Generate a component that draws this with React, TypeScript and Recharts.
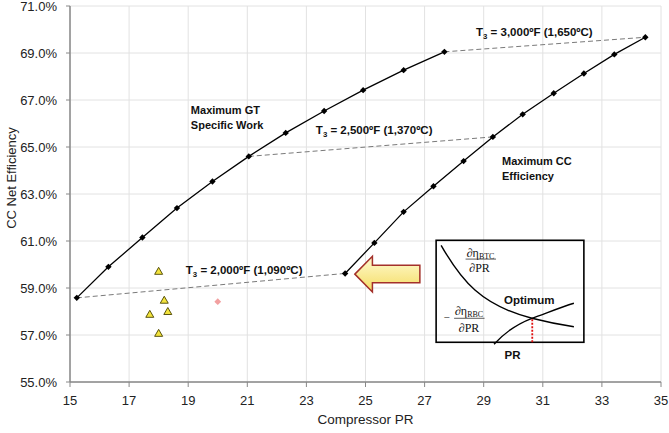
import React from 'react';
import {
  ComposedChart,
  Scatter,
  XAxis,
  YAxis,
  CartesianGrid,
  ReferenceDot,
  ReferenceArea,
} from 'recharts';

// ---- data (compressor PR, CC net efficiency %) ----
const gtPR = [15.23, 16.3, 17.45, 18.62, 19.82, 21.05, 22.3, 23.6, 24.92, 26.29, 27.67];
const gtEff = [58.58, 59.9, 61.15, 62.4, 63.53, 64.6, 65.6, 66.53, 67.42, 68.27, 69.05];
const ccPR = [24.31, 25.3, 26.29, 27.3, 28.32, 29.31, 30.32, 31.37, 32.39, 33.42, 34.47];
const ccEff = [59.62, 60.92, 62.24, 63.33, 64.4, 65.43, 66.39, 67.29, 68.13, 68.94, 69.67];
const iso2000PR = [15.23, 24.31];
const iso2000Eff = [58.58, 59.62];
const iso2500PR = [21.05, 29.31];
const iso2500Eff = [64.6, 65.43];
const iso3000PR = [27.67, 34.47];
const iso3000Eff = [69.05, 69.67];
const plantPR = [18.0, 18.19, 17.7, 18.31, 18.0];
const plantEff = [59.71, 58.48, 57.88, 58.0, 57.07];
const refPR = [20.0];
const refEff = [58.42];
const xTicks = [15, 17, 19, 21, 23, 25, 27, 29, 31, 33, 35];
const yTicks = [55, 57, 59, 61, 63, 65, 67, 69, 71];

const zip = (xs: number[], ys: number[]) => xs.map((x, i) => ({ x, y: ys[i] }));
const gtData = zip(gtPR, gtEff);
const ccData = zip(ccPR, ccEff);
const iso2000 = zip(iso2000PR, iso2000Eff);
const iso2500 = zip(iso2500PR, iso2500Eff);
const iso3000 = zip(iso3000PR, iso3000Eff);
const plantData = zip(plantPR, plantEff);
const refData = zip(refPR, refEff);

const SANS = "Arial, 'Liberation Sans', sans-serif";
const SERIF = "'Times New Roman', 'Liberation Serif', serif";

const Diamond = (p: any) => {
  const { cx, cy } = p;
  const r = 3.2;
  return (
    <path d={`M${cx},${cy - r} L${cx + r},${cy} L${cx},${cy + r} L${cx - r},${cy} Z`} fill="#000" />
  );
};
const PinkDiamond = (p: any) => {
  const { cx, cy } = p;
  const r = 3.4;
  return (
    <path d={`M${cx},${cy - r} L${cx + r},${cy} L${cx},${cy + r} L${cx - r},${cy} Z`} fill="#f2a0a0" />
  );
};
const Triangle = (p: any) => {
  const { cx, cy } = p;
  return (
    <path
      d={`M${cx},${cy - 4} L${cx + 4},${cy + 3} L${cx - 4},${cy + 3} Z`}
      fill="#f3e33c"
      stroke="#4a4400"
      strokeWidth={0.9}
    />
  );
};
const NoMark = () => <g />;

const noteText = (lines: string[][], size: number) => (p: any) => {
  const { cx, cy } = p;
  return (
    <text x={cx} y={cy} fontFamily={SANS} fontWeight="bold" fontSize={size} fill="#111">
      {lines.map((parts, i) => (
        <tspan key={i} x={cx} dy={i === 0 ? '0.35em' : 15.5}>
          {parts.length === 1 ? (
            parts[0]
          ) : (
            <>
              {parts[0]}
              <tspan fontSize={size * 0.68} dy={3}>{parts[1]}</tspan>
              <tspan dy={-3}>{parts[2]}</tspan>
            </>
          )}
        </tspan>
      ))}
    </text>
  );
};

const ArrowShape = (p: any) => {
  const { x, y, width: w, height: h } = p;
  const hx = x + 0.27 * w;
  const pts = [
    [x, y + 0.5 * h],
    [hx, y],
    [hx, y + 0.25 * h],
    [x + w, y + 0.25 * h],
    [x + w, y + 0.74 * h],
    [hx, y + 0.74 * h],
    [hx, y + h],
  ]
    .map((q) => q.join(','))
    .join(' ');
  return (
    <g>
      <defs>
        <linearGradient id="arrowFill" x1="0" y1="0" x2="0" y2="1">
          <stop offset="0" stopColor="#fffbd2" />
          <stop offset="1" stopColor="#f4dc62" />
        </linearGradient>
      </defs>
      <polygon points={pts} fill="url(#arrowFill)" stroke="#a3302a" strokeWidth={1.5} strokeLinejoin="miter" />
    </g>
  );
};

const InsetShape = (p: any) => {
  const { x, y, width: w, height: h } = p;
  const sx = w / 148;
  const sy = h / 102;
  const P = (a: number, b: number) => `${x + a * sx},${y + b * sy}`;
  const X = (a: number) => x + a * sx;
  const Y = (b: number) => y + b * sy;
  return (
    <g>
      <rect x={x} y={y} width={w} height={h} fill="none" stroke="#000" strokeWidth={1.6} />
      <path
        d={`M${P(5, 5)} C${P(25, 40)} ${P(45, 65)} ${P(96, 78)} C${P(110, 81.6)} ${P(125, 84.5)} ${P(138, 86.5)}`}
        fill="none"
        stroke="#000"
        strokeWidth={1.4}
      />
      <path
        d={`M${P(58, 104)} C${P(68, 93)} ${P(80, 84)} ${P(96, 78)} C${P(110, 73)} ${P(125, 67)} ${P(138, 63)}`}
        fill="none"
        stroke="#000"
        strokeWidth={1.4}
      />
      <line x1={X(96.3)} y1={Y(79)} x2={X(96.3)} y2={Y(102)} stroke="#e01010" strokeWidth={1.8} strokeDasharray="2 1.5" />
      {/* dEta_BTC / dPR */}
      <text x={X(44.5)} y={Y(17)} fontFamily={SERIF} fontSize={12} textAnchor="middle" fill="#111">
        ∂η<tspan fontSize={8} dy={2}>BTC</tspan>
      </text>
      <line x1={X(29.5)} y1={Y(18.8)} x2={X(60)} y2={Y(18.8)} stroke="#333" strokeWidth={0.8} />
      <text x={X(43.5)} y={Y(31.5)} fontFamily={SERIF} fontSize={12} textAnchor="middle" fill="#111">
        ∂PR
      </text>
      {/* - dEta_RBC / dPR */}
      <text x={X(10.5)} y={Y(81)} fontFamily={SERIF} fontSize={11} textAnchor="middle" fill="#111">
        −
      </text>
      <text x={X(33)} y={Y(74.5)} fontFamily={SERIF} fontSize={12} textAnchor="middle" fill="#111">
        ∂η<tspan fontSize={8} dy={2}>RBC</tspan>
      </text>
      <line x1={X(18)} y1={Y(78)} x2={X(48.5)} y2={Y(78)} stroke="#333" strokeWidth={0.8} />
      <text x={X(33)} y={Y(91.5)} fontFamily={SERIF} fontSize={12} textAnchor="middle" fill="#111">
        ∂PR
      </text>
      <text x={X(68)} y={Y(63.8)} fontFamily={SANS} fontWeight="bold" fontSize={11.5} fill="#111">
        Optimum
      </text>
      <text x={X(68.5)} y={Y(118.8)} fontFamily={SANS} fontWeight="bold" fontSize={11.5} fill="#111">
        PR
      </text>
    </g>
  );
};

export default function App() {
  return (
    <div style={{ position: 'absolute', left: 0, top: 0, width: 669, height: 433, background: '#fff' }}>
      <ComposedChart
        width={669}
        height={433}
        margin={{ top: 6, right: 8, bottom: 0, left: 8 }}
      >
        <CartesianGrid stroke="#e2e2e2" strokeWidth={1} />
        <XAxis
          dataKey="x"
          type="number"
          domain={[15, 35]}
          ticks={xTicks}
          interval={0}
          height={51}
          tickSize={5}
          tickMargin={9}
          axisLine={{ stroke: '#888', strokeWidth: 1.5 }}
          tickLine={{ stroke: '#888' }}
          tick={{ fill: '#222', fontSize: 13, fontFamily: SANS }}
          label={{
            content: (props: any) => {
              const vb = props.viewBox || {};
              return (
                <text
                  x={vb.x + vb.width / 2}
                  y={423.5}
                  textAnchor="middle"
                  fontFamily={SANS}
                  fontSize={13.5}
                  fill="#222"
                >
                  Compressor PR
                </text>
              );
            },
          }}
        />
        <YAxis
          dataKey="y"
          type="number"
          domain={[55, 71]}
          ticks={yTicks}
          interval={0}
          width={62}
          tickSize={4}
          tickMargin={9}
          tickFormatter={(v: number) => `${v.toFixed(1)}%`}
          axisLine={{ stroke: '#888', strokeWidth: 1.5 }}
          tickLine={{ stroke: '#888' }}
          tick={{ fill: '#222', fontSize: 13, fontFamily: SANS }}
          label={{
            content: (props: any) => {
              const vb = props.viewBox || {};
              const cx = 11;
              const cy = vb.y + vb.height / 2 - 16;
              return (
                <text
                  x={cx}
                  y={cy}
                  transform={`rotate(-90, ${cx}, ${cy})`}
                  textAnchor="middle"
                  dominantBaseline="central"
                  fontFamily={SANS}
                  fontSize={13}
                  fill="#222"
                >
                  CC Net Efficiency
                </text>
              );
            },
          }}
        />

        <Scatter data={iso2000} line={{ stroke: '#7a7a7a', strokeWidth: 1, strokeDasharray: '5 3' }} shape={NoMark} isAnimationActive={false} />
        <Scatter data={iso2500} line={{ stroke: '#7a7a7a', strokeWidth: 1, strokeDasharray: '5 3' }} shape={NoMark} isAnimationActive={false} />
        <Scatter data={iso3000} line={{ stroke: '#7a7a7a', strokeWidth: 1, strokeDasharray: '5 3' }} shape={NoMark} isAnimationActive={false} />
        <Scatter data={gtData} line={{ stroke: '#000', strokeWidth: 1.3 }} shape={Diamond} isAnimationActive={false} />
        <Scatter data={ccData} line={{ stroke: '#000', strokeWidth: 1.3 }} shape={Diamond} isAnimationActive={false} />
        <Scatter data={plantData} shape={Triangle} isAnimationActive={false} />
        <Scatter data={refData} shape={PinkDiamond} isAnimationActive={false} />

        <ReferenceArea x1={24.64} x2={26.84} y1={60.35} y2={58.83} shape={ArrowShape} ifOverflow="visible" />
        <ReferenceArea x1={27.39} x2={32.39} y1={61.03} y2={56.69} shape={InsetShape} ifOverflow="visible" />

        <ReferenceDot x={19.09} y={66.57} r={0} ifOverflow="visible"
          shape={noteText([['Maximum GT'], ['Specific Work']], 11)} />
        <ReferenceDot x={29.62} y={64.4} r={0} ifOverflow="visible"
          shape={noteText([['Maximum CC'], ['Efficiency']], 11)} />
        <ReferenceDot x={23.32} y={65.72} r={0} ifOverflow="visible"
          shape={noteText([['T', '3', ' = 2,500ºF (1,370ºC)']], 11.5)} />
        <ReferenceDot x={28.74} y={69.91} r={0} ifOverflow="visible"
          shape={noteText([['T', '3', ' = 3,000ºF (1,650ºC)']], 11.5)} />
        <ReferenceDot x={18.92} y={59.76} r={0} ifOverflow="visible"
          shape={noteText([['T', '3', ' = 2,000ºF (1,090ºC)']], 11.5)} />
      </ComposedChart>
    </div>
  );
}
